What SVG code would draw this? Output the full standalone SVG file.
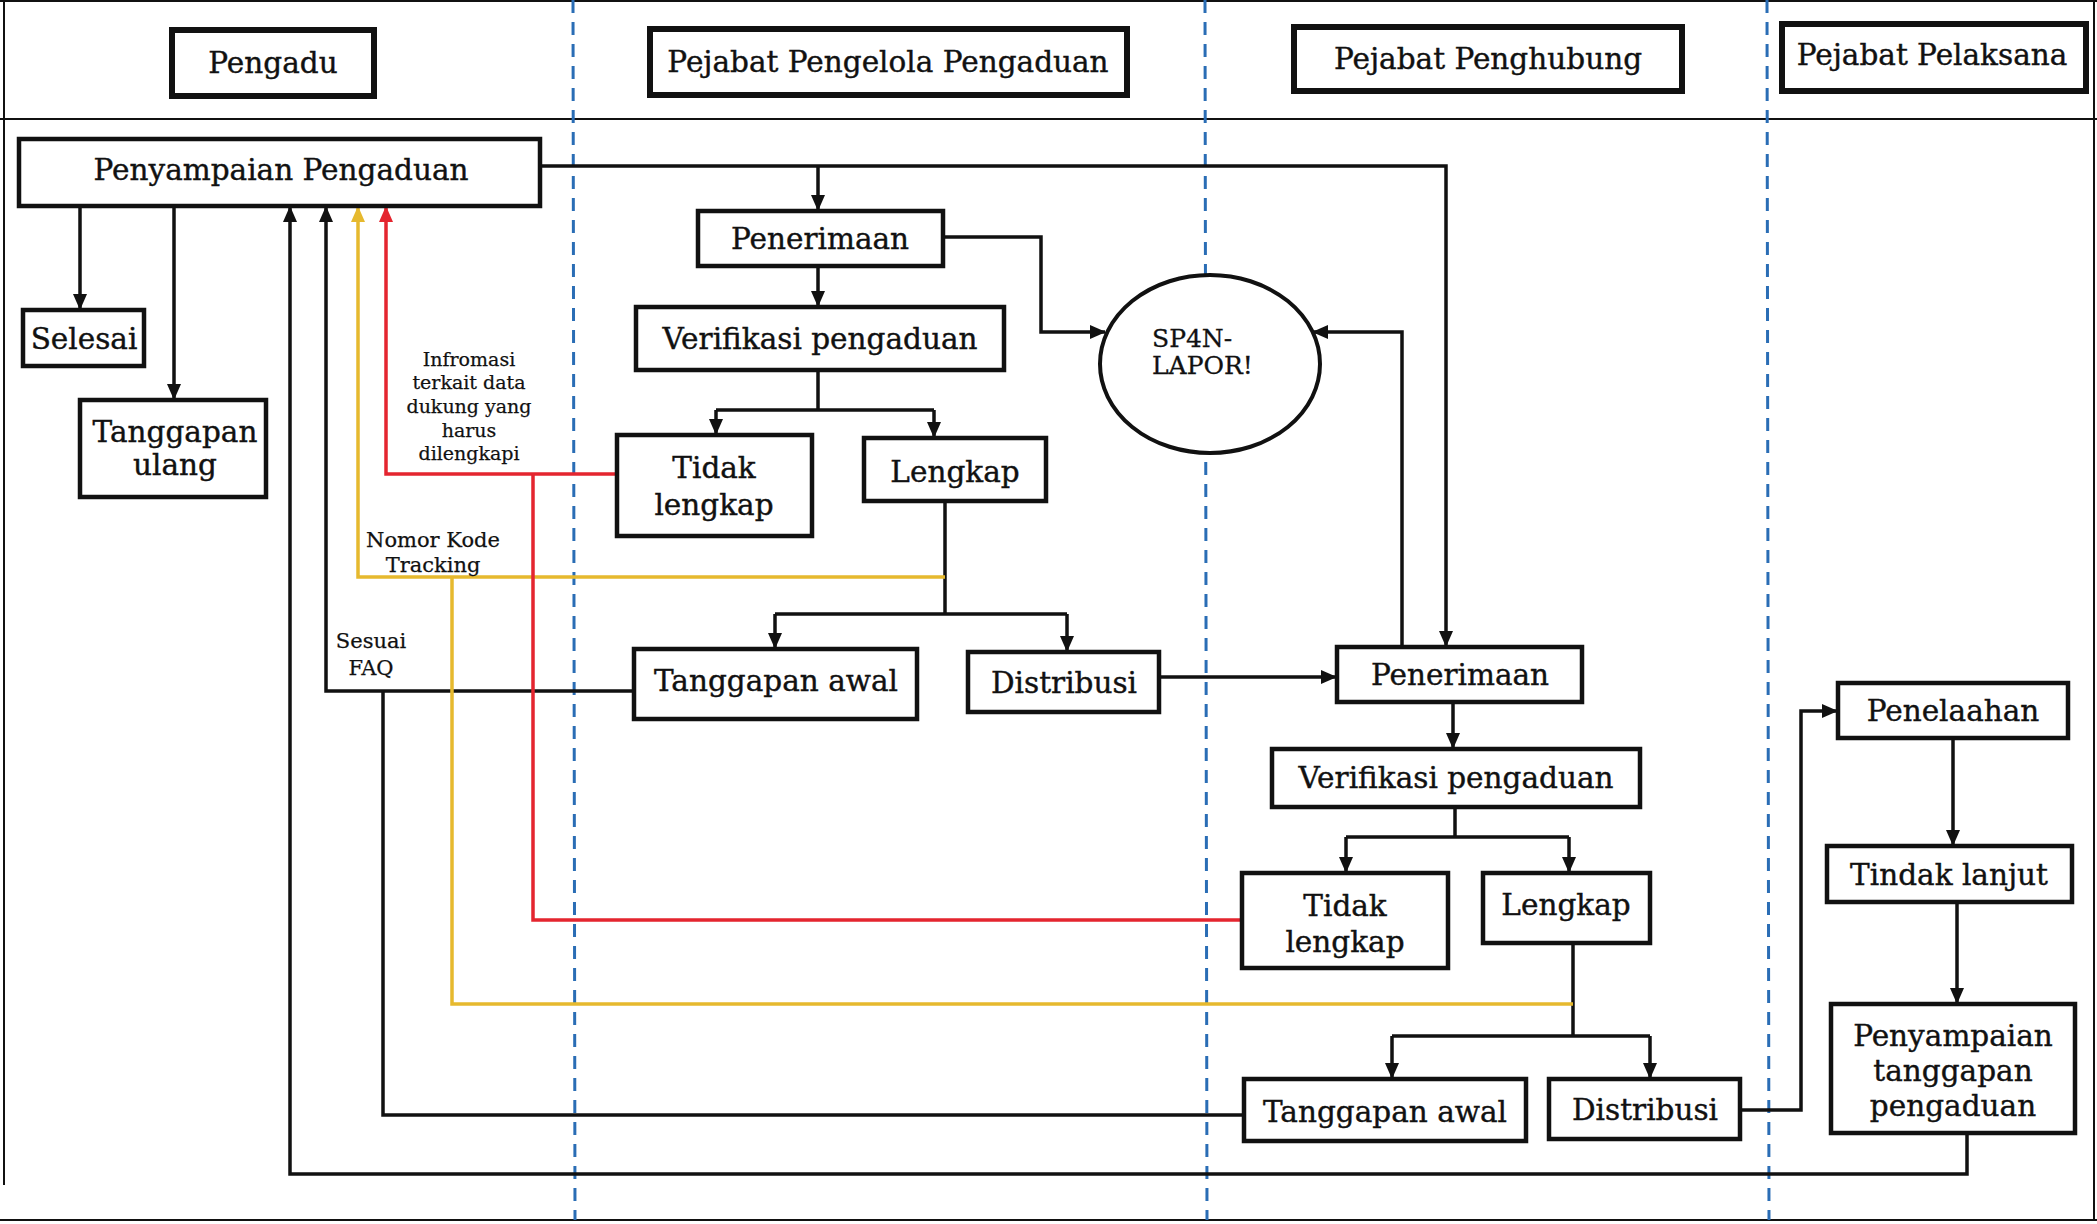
<svg xmlns="http://www.w3.org/2000/svg" width="2097" height="1224" viewBox="0 0 2097 1224">
<style>
  .box{fill:#fff;stroke:#111;stroke-width:4.5}
  .hdr{fill:#fff;stroke:#111;stroke-width:6}
  .t{font-family:"DejaVu Serif","Liberation Serif",serif;font-size:29.5px;fill:#111;stroke:#111;stroke-width:0.4;text-anchor:middle}
  .th{font-family:"DejaVu Serif","Liberation Serif",serif;font-size:29.5px;fill:#111;stroke:#111;stroke-width:0.4;text-anchor:middle}
  .lbl{font-family:"DejaVu Serif","Liberation Serif",serif;font-size:19px;fill:#111;stroke:#111;stroke-width:0.25;text-anchor:middle}
  .frame{stroke:#111;stroke-width:2;fill:none}
  .lane{stroke:#2a6db5;stroke-width:3;stroke-dasharray:13 9;fill:none}
  .c{stroke:#111;stroke-width:3.5;fill:none}
  .y{stroke:#e6b92e;stroke-width:3.5;fill:none}
  .r{stroke:#e4252f;stroke-width:3.5;fill:none}
</style>
<defs>
  <marker id="ak" markerUnits="userSpaceOnUse" markerWidth="16" markerHeight="16" viewBox="0 0 16 16" refX="15" refY="8" orient="auto"><path d="M0,1 L16,8 L0,15 Z" fill="#111"/></marker>
  <marker id="ay" markerUnits="userSpaceOnUse" markerWidth="16" markerHeight="16" viewBox="0 0 16 16" refX="15" refY="8" orient="auto"><path d="M0,1 L16,8 L0,15 Z" fill="#e6b92e"/></marker>
  <marker id="ar" markerUnits="userSpaceOnUse" markerWidth="16" markerHeight="16" viewBox="0 0 16 16" refX="15" refY="8" orient="auto"><path d="M0,1 L16,8 L0,15 Z" fill="#e4252f"/></marker>
</defs>
<rect width="2097" height="1224" fill="#fff"/>
<g id="frame">
  <line class="frame" x1="0" y1="1" x2="2097" y2="1"/>
  <line class="frame" x1="4" y1="0" x2="4" y2="1185"/>
  <line class="frame" x1="2094" y1="0" x2="2094" y2="1220"/>
  <line class="frame" x1="0" y1="1220" x2="2097" y2="1220"/>
  <line class="frame" x1="0" y1="119" x2="2097" y2="119"/>
  <line class="lane" x1="573" y1="0" x2="575" y2="1220"/>
  <line class="lane" x1="1205" y1="0" x2="1207" y2="1220"/>
  <line class="lane" x1="1767" y1="0" x2="1769" y2="1220"/>
</g>
<g id="headers">
  <g id="h-pengadu"><rect class="hdr" x="172" y="30" width="202" height="66"/><text class="th" x="273" y="73">Pengadu</text></g>
  <g id="h-ppp"><rect class="hdr" x="650" y="29" width="477" height="66"/><text class="th" x="888" y="72">Pejabat Pengelola Pengaduan</text></g>
  <g id="h-penghubung"><rect class="hdr" x="1294" y="27" width="388" height="64"/><text class="th" x="1488" y="69">Pejabat Penghubung</text></g>
  <g id="h-pelaksana"><rect class="hdr" x="1782" y="24" width="304" height="67"/><text class="th" x="1932" y="65">Pejabat Pelaksana</text></g>
</g>
<g id="connectors">
  <path class="c" d="M80,206 V309" marker-end="url(#ak)"/>
  <path class="c" d="M174,206 V399" marker-end="url(#ak)"/>
  <path class="c" d="M540,166 H1446 V646" marker-end="url(#ak)"/>
  <path class="c" d="M818,166 V210" marker-end="url(#ak)"/>
  <path class="c" d="M818,266 V306" marker-end="url(#ak)"/>
  <path class="c" d="M943,237 H1041 V332 H1105" marker-end="url(#ak)"/>
  <path class="c" d="M818,370 V410"/>
  <path class="c" d="M716,410 H934"/>
  <path class="c" d="M716,410 V434" marker-end="url(#ak)"/>
  <path class="c" d="M934,410 V437" marker-end="url(#ak)"/>
  <path class="c" d="M945,501 V614"/>
  <path class="c" d="M775,614 H1067"/>
  <path class="c" d="M775,614 V648" marker-end="url(#ak)"/>
  <path class="c" d="M1067,614 V651" marker-end="url(#ak)"/>
  <path class="c" d="M1159,677 H1336" marker-end="url(#ak)"/>
  <path class="c" d="M1402,647 V332 H1313" marker-end="url(#ak)"/>
  <path class="c" d="M1453,702 V748" marker-end="url(#ak)"/>
  <path class="c" d="M1455,807 V837"/>
  <path class="c" d="M1346,837 H1569"/>
  <path class="c" d="M1346,837 V872" marker-end="url(#ak)"/>
  <path class="c" d="M1569,837 V872" marker-end="url(#ak)"/>
  <path class="c" d="M1573,943 V1036"/>
  <path class="c" d="M1392,1036 H1650"/>
  <path class="c" d="M1392,1036 V1078" marker-end="url(#ak)"/>
  <path class="c" d="M1650,1036 V1078" marker-end="url(#ak)"/>
  <path class="c" d="M1740,1110 H1801 V711 H1837" marker-end="url(#ak)"/>
  <path class="c" d="M1953,738 V845" marker-end="url(#ak)"/>
  <path class="c" d="M1957,902 V1003" marker-end="url(#ak)"/>
  <path class="c" d="M1967,1133 V1174 H290 V207" marker-end="url(#ak)"/>
  <path class="c" d="M1244,1115 H383 V691"/>
  <path class="c" d="M634,691 H326 V207" marker-end="url(#ak)"/>
  <path class="y" d="M945,577 H358 V207" marker-end="url(#ay)"/>
  <path class="y" d="M1573,1004 H452 V577"/>
  <path class="r" d="M617,474 H386 V207" marker-end="url(#ar)"/>
  <path class="r" d="M1242,920 H533 V474"/>
</g>
<g id="labels">
  <text class="lbl"><tspan x="469" y="366">Infromasi</tspan><tspan x="469" y="389">terkait data</tspan><tspan x="469" y="413">dukung yang</tspan><tspan x="469" y="437">harus</tspan><tspan x="469" y="460">dilengkapi</tspan></text>
  <text class="lbl" style="font-size:21px"><tspan x="433" y="547">Nomor Kode</tspan><tspan x="433" y="572">Tracking</tspan></text>
  <text class="lbl" style="font-size:21px"><tspan x="371" y="648">Sesuai</tspan><tspan x="371" y="675">FAQ</tspan></text>
</g>
<g id="n-penyampaian-pengaduan"><rect class="box" x="19" y="139" width="521" height="67"/><text class="t" x="281" y="180">Penyampaian Pengaduan</text></g>
<g id="n-selesai"><rect class="box" x="23" y="310" width="121" height="56"/><text class="t" x="84" y="349">Selesai</text></g>
<g id="n-tanggapan-ulang"><rect class="box" x="80" y="400" width="186" height="97"/><text class="t"><tspan x="175" y="442">Tanggapan</tspan><tspan x="175" y="475">ulang</tspan></text></g>
<g id="n-penerimaan1"><rect class="box" x="698" y="211" width="245" height="55"/><text class="t" x="820" y="249">Penerimaan</text></g>
<g id="n-verifikasi1"><rect class="box" x="636" y="307" width="368" height="63"/><text class="t" x="820" y="349">Verifikasi pengaduan</text></g>
<g id="n-tidak1"><rect class="box" x="617" y="435" width="195" height="101"/><text class="t"><tspan x="714" y="478">Tidak</tspan><tspan x="714" y="515">lengkap</tspan></text></g>
<g id="n-lengkap1"><rect class="box" x="864" y="438" width="182" height="63"/><text class="t" x="955" y="482">Lengkap</text></g>
<g id="n-tanggapan-awal1"><rect class="box" x="634" y="649" width="283" height="70"/><text class="t" x="776" y="691">Tanggapan awal</text></g>
<g id="n-distribusi1"><rect class="box" x="968" y="652" width="191" height="60"/><text class="t" x="1064" y="693">Distribusi</text></g>
<g id="n-sp4n"><ellipse cx="1210" cy="364" rx="110" ry="89" fill="#fff" stroke="#111" stroke-width="4"/><text class="t" style="font-size:25px;text-anchor:start;stroke-width:0.3"><tspan x="1152" y="347">SP4N-</tspan><tspan x="1152" y="374">LAPOR!</tspan></text></g>
<g id="n-penerimaan2"><rect class="box" x="1337" y="647" width="245" height="55"/><text class="t" x="1460" y="685">Penerimaan</text></g>
<g id="n-verifikasi2"><rect class="box" x="1272" y="749" width="368" height="58"/><text class="t" x="1456" y="788">Verifikasi pengaduan</text></g>
<g id="n-tidak2"><rect class="box" x="1242" y="873" width="206" height="95"/><text class="t"><tspan x="1345" y="916">Tidak</tspan><tspan x="1345" y="952">lengkap</tspan></text></g>
<g id="n-lengkap2"><rect class="box" x="1483" y="873" width="167" height="70"/><text class="t" x="1566" y="915">Lengkap</text></g>
<g id="n-tanggapan-awal2"><rect class="box" x="1244" y="1079" width="282" height="62"/><text class="t" x="1385" y="1122">Tanggapan awal</text></g>
<g id="n-distribusi2"><rect class="box" x="1549" y="1079" width="191" height="60"/><text class="t" x="1645" y="1120">Distribusi</text></g>
<g id="n-penelaahan"><rect class="box" x="1838" y="683" width="230" height="55"/><text class="t" x="1953" y="721">Penelaahan</text></g>
<g id="n-tindak-lanjut"><rect class="box" x="1827" y="846" width="245" height="56"/><text class="t" x="1949" y="885">Tindak lanjut</text></g>
<g id="n-penyampaian-tanggapan"><rect class="box" x="1831" y="1004" width="244" height="129"/><text class="t"><tspan x="1953" y="1046">Penyampaian</tspan><tspan x="1953" y="1081">tanggapan</tspan><tspan x="1953" y="1116">pengaduan</tspan></text></g>
</svg>
